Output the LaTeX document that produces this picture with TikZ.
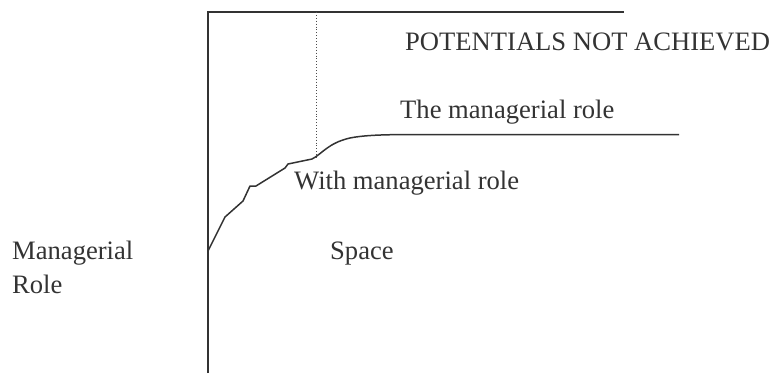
\documentclass[tikz,border=0pt]{standalone}
\usepackage{fontspec}
\setmainfont{Liberation Serif}
\begin{document}
\begin{tikzpicture}[x=1pt,y=-1pt,
  axis/.style={draw=black!80,line width=1.6pt},
  curveline/.style={draw=black!80,line width=1.5pt,line join=round},
  guide/.style={draw=black!70,line width=0.9pt,dotted},
  lbl/.style={inner sep=0pt,anchor=base west,text=black!80,font=\fontsize{26.6}{34}\selectfont}]
\useasboundingbox (0,0) rectangle (775,373);
\coordinate (top) at (208,12);
\coordinate (bot) at (208,373);
\coordinate (topend) at (624,12);
\coordinate (dtop) at (316.5,12);
\coordinate (dbot) at (316.5,158);
\draw[axis] (bot) -- (top) -- (topend);
\draw[guide] (dtop) -- (dbot);
\draw[curveline] (208,251) -- (225,217) -- (243,201) -- (250,186) -- (256,186)
  -- (285,168) -- (288,164) -- (312,159)
  .. controls (322,154) and (328,143) .. (350,138)
  .. controls (365,135) and (385,134.5) .. (420,134.5) -- (679,134.5);
\node[lbl] (pna) at (405,50) {POTENTIALS NOT ACHIEVED};
\node[lbl] (tmr) at (400,118) {The managerial role};
\node[lbl] (wmr) at (294,189) {With managerial role};
\node[lbl] (space) at (330,259) {Space};
\node[lbl] (mr1) at (12,259) {Managerial};
\node[lbl] (mr2) at (12,293) {Role};
\end{tikzpicture}
\end{document}
